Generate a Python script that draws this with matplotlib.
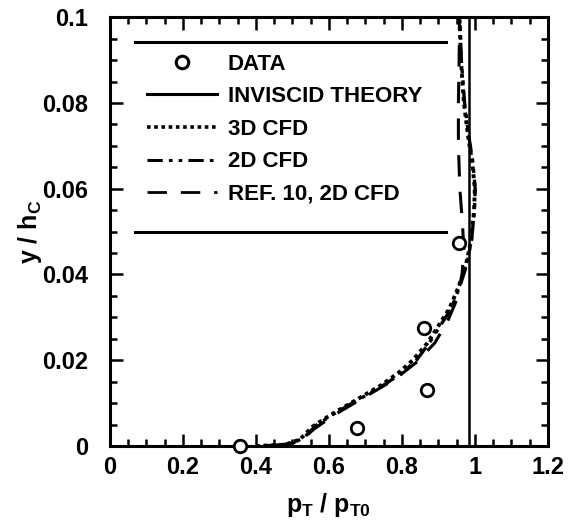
import numpy as np
import matplotlib
matplotlib.use("Agg")
import matplotlib.pyplot as plt
from matplotlib.lines import Line2D
from matplotlib.ticker import MultipleLocator, FixedLocator, FixedFormatter

plt.rcParams['font.family'] = ['Liberation Sans', 'DejaVu Sans']
plt.rcParams['font.weight'] = 'bold'
plt.rcParams['mathtext.fontset'] = 'custom'
plt.rcParams['mathtext.rm'] = 'Liberation Sans:bold'
plt.rcParams['mathtext.it'] = 'Liberation Sans:bold'
plt.rcParams['mathtext.bf'] = 'Liberation Sans:bold'

# measured data
p_data = [0.355, 0.676, 0.870, 0.862, 0.958]
y_data = [0.0, 0.0041, 0.0131, 0.0274, 0.0474]

# inviscid theory (vertical line)
p_inv = [0.985, 0.985]
y_inv = [0.0, 0.1]

# 3D CFD
p_3d = [0.40, 0.48, 0.52, 0.555, 0.60, 0.65, 0.70, 0.74, 0.79, 0.83, 0.87, 0.90,
        0.93, 0.955, 0.975, 0.99, 0.998, 1.0, 0.993, 0.982, 0.970, 0.962, 0.958]
y_3d = [0.0, 0.0003, 0.0015, 0.0045, 0.0070, 0.0095, 0.0120, 0.0140, 0.0170, 0.0200, 0.0240, 0.0280,
        0.0320, 0.0370, 0.0420, 0.0480, 0.0550, 0.0600, 0.0660, 0.0720, 0.0800, 0.0900, 0.1000]

# 2D CFD
p_2d = [0.42, 0.49, 0.53, 0.565, 0.61, 0.66, 0.71, 0.75, 0.80, 0.84, 0.875, 0.905,
        0.935, 0.958, 0.977, 0.991, 0.999, 1.001, 0.995, 0.984, 0.972, 0.963, 0.959]
y_2d = [0.0, 0.0004, 0.0018, 0.0048, 0.0073, 0.0098, 0.0122, 0.0142, 0.0170, 0.0200, 0.0240, 0.0280,
        0.0320, 0.0370, 0.0420, 0.0480, 0.0550, 0.0600, 0.0660, 0.0720, 0.0800, 0.0900, 0.1000]

# Ref. 10, 2D CFD
p_ref = [0.45, 0.52, 0.56, 0.62, 0.70, 0.78, 0.84, 0.89, 0.925, 0.950, 0.965, 0.970,
         0.966, 0.959, 0.955, 0.955, 0.957, 0.958]
y_ref = [0.0, 0.0010, 0.0040, 0.0075, 0.0115, 0.0155, 0.0195, 0.0240, 0.0290, 0.0340, 0.0400, 0.0460,
         0.0520, 0.0600, 0.0700, 0.0800, 0.0900, 0.1000]

x_ticks = [0, 0.2, 0.4, 0.6, 0.8, 1.0, 1.2]
x_labels = ["0", "0.2", "0.4", "0.6", "0.8", "1", "1.2"]
y_ticks = [0, 0.02, 0.04, 0.06, 0.08, 0.1]
y_labels = ["0", "0.02", "0.04", "0.06", "0.08", "0.1"]

# legend frame lines (top / bottom only)
leg_x = [0.068, 0.922]
leg_y = [0.0942, 0.050]

fig = plt.figure(figsize=(5.70, 5.21), dpi=100)
ax = fig.add_axes([0.193, 0.144, 0.768, 0.823])

ax.plot(p_inv, y_inv, color='black', lw=1.8, label='INVISCID THEORY')
ax.plot(p_3d, y_3d, color='black', lw=2.8, linestyle=(0, (1, 1)), label='3D CFD')
ax.plot(p_2d, y_2d, color='black', lw=2.4, linestyle=(0, (5, 2, 1.2, 2, 1.2, 2)), label='2D CFD')
ax.plot(p_ref, y_ref, color='black', lw=2.2, linestyle=(0, (7, 5)), label='REF. 10, 2D CFD')
ax.plot(p_data, y_data, 'o', ms=9, mfc='white', mec='black', mew=2.0, label='DATA',
        clip_on=False, zorder=5)

for yy in leg_y:
    ax.plot(leg_x, [yy, yy], color='black', lw=2.2)

handles = [
    Line2D([], [], marker='o', ls='none', ms=9, mfc='white', mec='black', mew=2.2),
    Line2D([], [], color='black', lw=2.2),
    Line2D([], [], color='black', lw=2.6, linestyle=(0, (1, 1))),
    Line2D([], [], color='black', lw=2.2, linestyle=(0, (5, 2, 1.2, 2, 1.2, 2))),
    Line2D([], [], color='black', lw=2.0, linestyle=(0, (7, 5))),
]
labels = ['DATA', 'INVISCID THEORY', '3D CFD', '2D CFD', 'REF. 10, 2D CFD']
ax.legend(handles, labels, loc='upper left', bbox_to_anchor=(0.084, 0.915),
          frameon=False, borderpad=0, borderaxespad=0, handlelength=3.15,
          handletextpad=0.5, labelspacing=0.52, prop={'size': 16, 'weight': 'bold'})

ax.set_xlim(0, 1.2)
ax.set_ylim(0, 0.1)
ax.xaxis.set_major_locator(FixedLocator(x_ticks))
ax.xaxis.set_major_formatter(FixedFormatter(x_labels))
ax.yaxis.set_major_locator(FixedLocator(y_ticks))
ax.yaxis.set_major_formatter(FixedFormatter(y_labels))
ax.xaxis.set_minor_locator(MultipleLocator(0.05))
ax.yaxis.set_minor_locator(MultipleLocator(0.005))
ax.tick_params(which='both', direction='in', top=True, right=True, width=1.8)
ax.tick_params(which='major', length=9, labelsize=17)
ax.tick_params(axis='x', which='major', pad=7)
ax.tick_params(axis='y', which='major', pad=16)
ax.tick_params(which='minor', length=5)
for s in ax.spines.values():
    s.set_linewidth(2.2)

ax.set_xlabel(r'p$_\mathrm{T}$ / p$_\mathrm{T0}$', fontsize=18, fontweight='bold', labelpad=9)
ax.set_ylabel(r'y / h$_\mathrm{C}$', fontsize=18, fontweight='bold', labelpad=-2)

fig.savefig('out.png', dpi=100)
